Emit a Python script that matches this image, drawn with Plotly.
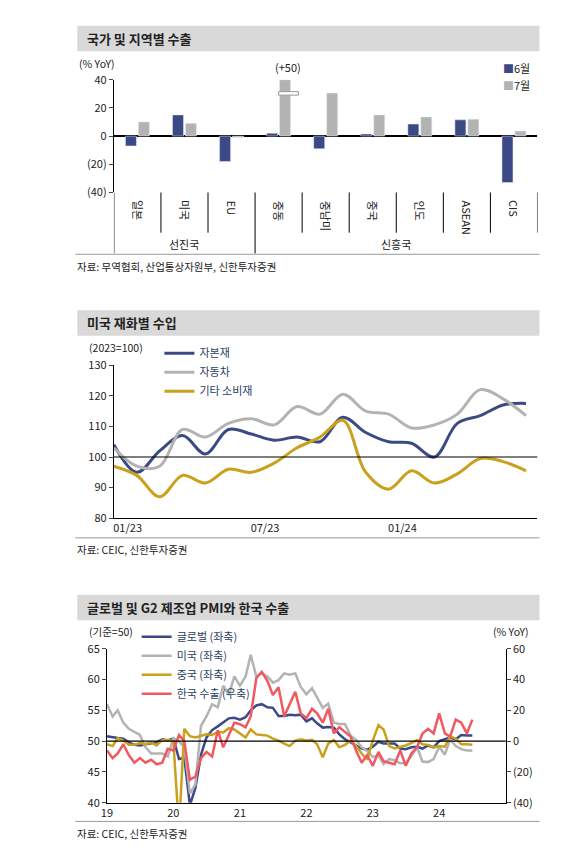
import plotly.graph_objects as go
import pandas as pd

W, H = 584, 850
FONT = "Noto Sans CJK KR"
NAVY = "#3b4a86"
GREY = "#b3b3b3"
GOLD = "#c9a11c"
RED = "#f0595f"

# ---- panel 1: exports by region
regions = ["일본", "미국", "EU", "중동", "중남미", "중국", "인도", "ASEAN", "CIS"]
jun = [-7, 15, -18, 2, -9, 1.5, 8.5, 11.5, -33]
jul = [10, 9, -1, 50, 30.5, 15, 13.5, 12, 3.5]
groups = ["선진국", "신흥국"]

# ---- panel 2: US imports by goods (2023=100)
months2 = list(range(19))
capital = [104, 95, 102, 107, 101, 109, 107.5, 105.5, 106.5, 105, 113, 108, 105, 104.5, 100, 111, 113.5, 117, 117.5]
autos = [103, 97, 97, 109, 106.5, 111, 112.5, 110.5, 116.5, 114, 120.5, 115, 114, 109.5, 110.5, 114, 122, 119, 113.5]
consumer = [97, 94, 87, 94, 91.5, 96, 95, 98, 103, 106.5, 112, 95, 89.5, 95.5, 91.5, 94.5, 99.5, 98.5, 95.5]
ticks2 = ["01/23", "07/23", "01/24"]

# ---- panel 3: PMI and Korea exports
dates3 = pd.date_range("2019-01-01", periods=67, freq="MS")
years3 = ["2019-01-01", "2020-01-01", "2021-01-01", "2022-01-01", "2023-01-01", "2024-01-01"]
pmi_global = [50.8, 50.6, 50.5, 50.4, 49.8, 49.4, 49.3, 49.5, 49.7, 49.8, 50.3, 50.1,
              50.4, 47.1, 47.3, 39.6, 42.4, 47.8, 50.6, 51.8, 52.4, 53.0, 53.7, 53.8,
              53.5, 53.9, 55.0, 55.8, 56.0, 55.5, 55.4, 54.1, 54.1, 54.3, 54.2, 54.3,
              53.2, 53.7, 52.9, 52.2, 52.3, 52.2, 51.1, 50.3, 49.8, 49.4, 48.8, 48.6,
              49.1, 49.9, 49.6, 49.6, 49.6, 48.8, 48.7, 49.0, 49.1, 48.8, 49.3, 49.0,
              50.0, 50.3, 50.6, 50.3, 51.0, 50.9, 50.9]
pmi_us = [56, 54, 55, 53, 52, 51.5, 51, 49, 48, 48, 48, 47.5,
          50.5, 50, 49, 41.5, 43, 52.5, 54, 56, 55.5, 59, 57.5, 60.5,
          59, 60.5, 64, 60.5, 61, 60.5, 59.5, 59.9, 61, 60.8, 61, 58.8,
          57.6, 58.6, 57.1, 55.4, 56.1, 53, 52.8, 52.8, 50.9, 50.2, 49, 48.4,
          47.4, 47.7, 46.3, 47.1, 46.9, 46.4, 46.4, 47.6, 49, 46.7, 46.6, 47.1,
          49.1, 47.8, 50.3, 49.2, 48.7, 48.5, 48.5]
pmi_cn = [49.5, 49.2, 50.5, 50.1, 49.4, 49.4, 49.7, 49.5, 49.8, 49.3, 50.2, 50.2,
          50.0, 35.7, 52.0, 50.8, 50.6, 50.9, 51.1, 51.0, 51.5, 51.4, 52.1, 51.9,
          51.3, 50.6, 51.9, 51.1, 51.0, 50.9, 50.4, 50.1, 49.6, 49.2, 50.1, 50.3,
          50.1, 50.2, 49.5, 47.4, 49.6, 50.2, 49.0, 49.4, 50.1, 49.2, 48.0, 47.0,
          50.1, 52.6, 51.9, 49.2, 48.8, 49.0, 49.3, 49.7, 50.2, 49.5, 49.4, 49.0,
          49.2, 49.1, 50.8, 50.4, 49.5, 49.5, 49.4]
kr_exports = [-6, -11, -8, -2, -9, -14, -11, -14, -12, -15, -14, -5,
              -6, 4, 0, -25, -23, -11, -7, -10, 7, -4, 4, 12,
              11, 9, 16, 41, 45, 39, 30, 35, 16, 24, 32, 18,
              15, 21, 18, 12, 21, 5, 9, 6, 3, -6, -14, -9,
              -16, -7, -13, -14, -15, -6, -16, -8, -4, 5, 8, 5,
              18, 5, 3, 14, 12, 5, 14]


def px(x):
    return x / W


def py(y):
    return 1 - y / H


def note(x, y, text, xanchor="left", size=11, xref="paper", **kw):
    return dict(xref=xref, yref="paper", x=x if xref != "paper" else px(x), y=py(y), text=text, showarrow=False,
                xanchor=xanchor, yanchor="middle", font=dict(family=FONT, size=size, color="#222"), **kw)


fig = go.Figure()

jul_shown = [min(v, 40) for v in jul]
fig.add_trace(go.Bar(x=list(range(9)), y=jun, name="6월", marker_color=NAVY,
                     xaxis="x", yaxis="y", showlegend=False))
fig.add_trace(go.Bar(x=list(range(9)), y=jul_shown, name="7월", marker_color=GREY,
                     xaxis="x", yaxis="y", showlegend=False))

fig.add_trace(go.Scatter(x=months2, y=capital, name="자본재", mode="lines", line=dict(color=NAVY, width=3, shape="spline"),
                         xaxis="x2", yaxis="y2", legend="legend2"))
fig.add_trace(go.Scatter(x=months2, y=autos, name="자동차", mode="lines", line=dict(color=GREY, width=3, shape="spline"),
                         xaxis="x2", yaxis="y2", legend="legend2"))
fig.add_trace(go.Scatter(x=months2, y=consumer, name="기타 소비재", mode="lines", line=dict(color=GOLD, width=3, shape="spline"),
                         xaxis="x2", yaxis="y2", legend="legend2"))

fig.add_trace(go.Scatter(x=dates3, y=pmi_global, name="글로벌 (좌축)", mode="lines", line=dict(color=NAVY, width=2.5),
                         xaxis="x3", yaxis="y3", legend="legend3"))
fig.add_trace(go.Scatter(x=dates3, y=pmi_us, name="미국 (좌축)", mode="lines", line=dict(color=GREY, width=2.5),
                         xaxis="x3", yaxis="y3", legend="legend3"))
fig.add_trace(go.Scatter(x=dates3, y=pmi_cn, name="중국 (좌축)", mode="lines", line=dict(color=GOLD, width=2.5),
                         xaxis="x3", yaxis="y3", legend="legend3"))
fig.add_trace(go.Scatter(x=dates3, y=kr_exports, name="한국 수출 (우축)", mode="lines", line=dict(color=RED, width=2.5),
                         xaxis="x3", yaxis="y4", legend="legend3"))

tickfont = dict(family=FONT, size=11, color="#222")
paren = lambda v: f"({abs(v)})" if v < 0 else str(v)

shapes, annos = [], []
# title bars, bottom rules, sources
for top, title, src, rule in [(17, "국가 및 지역별 수출", "자료: 무역협회, 산업통상자원부, 신한투자증권", 250),
                              (307, "미국 재화별 수입", "자료: CEIC, 신한투자증권", 539),
                              (597, "글로벌 및 G2 제조업 PMI와 한국 수출", "자료: CEIC, 신한투자증권", 828)]:
    shapes.append(dict(type="rect", xref="paper", yref="paper", x0=px(72), x1=px(539), y0=py(top + 26), y1=py(top),
                       fillcolor="#d9d9d9", line_width=0, layer="below"))
    shapes.append(dict(type="line", xref="paper", yref="paper", x0=px(70), x1=px(539), y0=py(rule), y1=py(rule),
                       line=dict(color="#999", width=1)))
    annos.append(note(80, top + 13, f"<b>{title}</b>", size=13))
    annos.append(note(70, rule + 12, src, size=10.5))

# panel 1 legend
annos.append(note(500, 60, f"<span style='color:{NAVY}'>■</span>6월"))
annos.append(note(500, 77, f"<span style='color:{GREY}'>■</span>7월"))

# panel 1 category axis
for i, r in enumerate(regions):
    annos.append(dict(xref="x", yref="paper", x=i, y=py(193), text=r, textangle=90, showarrow=False,
                      xanchor="center", yanchor="top", font=dict(family=FONT, size=11, color="#222")))
for b in [0.5, 1.5, 3.5, 4.5, 5.5, 6.5, 7.5, 8.5]:
    shapes.append(dict(type="line", xref="x", yref="paper", x0=b, x1=b, y0=py(187), y1=py(228), line=dict(color="#000", width=1)))
for b in [-0.5, 2.5]:
    shapes.append(dict(type="line", xref="x", yref="paper", x0=b, x1=b, y0=py(187), y1=py(249), line=dict(color="#000", width=1)))
annos.append(note(1, 240, groups[0], xanchor="center", xref="x"))
annos.append(note(5.5, 240, groups[1], xanchor="center", xref="x"))
annos.append(dict(xref="x", yref="y", x=3.2, y=40, text="(+50)", showarrow=False, yanchor="bottom", yshift=3,
                  font=dict(family=FONT, size=11, color="#222")))
shapes.append(dict(type="rect", xref="x", yref="y", x0=3.0, x1=3.42, y0=29, y1=31.5, fillcolor="white",
                   line=dict(color="#999", width=1)))
annos.append(note(72, 56, "(% YoY)", size=10.5))

# panel 2 / 3 reference lines and units
shapes.append(dict(type="line", xref="x2", yref="y2", x0=0, x1=18.5, y0=100, y1=100, line=dict(color="#000", width=1.2)))
shapes.append(dict(type="line", xref="x3", yref="y3", x0="2019-01-01", x1="2025-01-01", y0=50, y1=50, line=dict(color="#000", width=1.2)))
annos.append(note(82, 345, "(2023=100)", size=10.5))
annos.append(note(82, 634, "(기준=50)", size=10.5))
annos.append(note(530, 634, "(% YoY)", xanchor="right", size=10.5))

ax = dict(showgrid=False, zeroline=False, showline=True, linecolor="#000", tickfont=tickfont, ticks="outside", ticklen=4)

fig.update_layout(
    width=W, height=H, margin=dict(l=0, r=0, t=0, b=0),
    paper_bgcolor="white", plot_bgcolor="white", font=dict(family=FONT),
    barmode="group", bargap=0.45, bargroupgap=0.15,
    shapes=shapes, annotations=annos,
    xaxis=dict(domain=[px(109), px(537)], range=[-0.5, 8.5], showticklabels=False, showgrid=False, zeroline=False,
               showline=False, anchor="y"),
    yaxis=dict(ax, domain=[py(187), py(72)], range=[-40, 40], tickvals=[-40, -20, 0, 20, 40],
               ticktext=[paren(v) for v in [-40, -20, 0, 20, 40]], zeroline=True, zerolinecolor="#000", anchor="x"),
    xaxis2=dict(ax, domain=[px(109), px(537)], range=[0, 18.5], tickvals=[0.6, 6.6, 12.6], ticktext=ticks2,
                anchor="y2", ticks=""),
    yaxis2=dict(ax, domain=[py(519), py(363)], range=[80, 130], dtick=10, anchor="x2"),
    xaxis3=dict(ax, domain=[px(102), px(505)], range=["2019-01-01", "2025-01-01"], tickvals=years3, tickformat="%y",
                anchor="y3", ticks=""),
    yaxis3=dict(ax, domain=[py(809), py(652)], range=[40, 65], dtick=5, anchor="x3"),
    yaxis4=dict(ax, overlaying="y3", side="right", anchor="x3", range=[-40, 60], tickvals=[-40, -20, 0, 20, 40, 60],
                ticktext=[paren(v) for v in [-40, -20, 0, 20, 40, 60]]),
    legend2=dict(x=px(155), y=py(336), xanchor="left", yanchor="top", font=dict(family=FONT, size=11),
                 tracegroupgap=0, bgcolor="rgba(0,0,0,0)"),
    legend3=dict(x=px(132), y=py(625), xanchor="left", yanchor="top", font=dict(family=FONT, size=11),
                 tracegroupgap=0, bgcolor="rgba(0,0,0,0)"),
)

fig.write_html("out.html", config={"displayModeBar": False},
               post_script="document.body.style.margin='0';document.body.style.overflow='hidden';")
